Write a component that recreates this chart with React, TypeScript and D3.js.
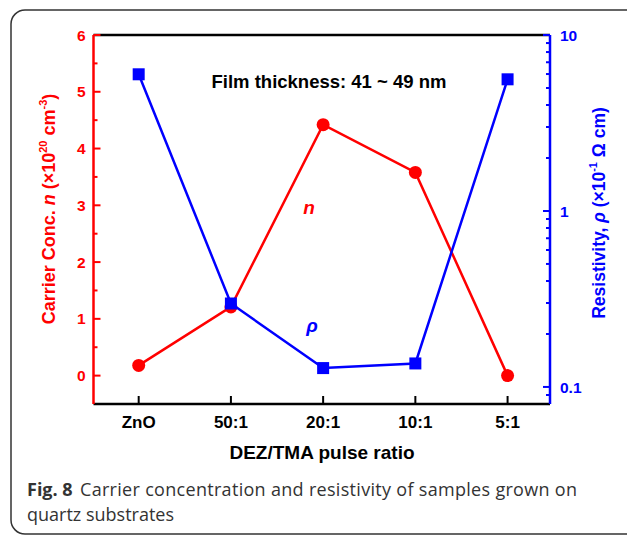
import React from "react";
import * as d3 from "d3";

const categories = ["ZnO", "50:1", "20:1", "10:1", "5:1"];
const carrierConc = [0.18, 1.21, 4.42, 3.58, 0.0];
const resistivity = [5.98, 0.298, 0.128, 0.136, 5.6];
const leftTicks = [0, 1, 2, 3, 4, 5, 6];
const leftMinor = [0.5, 1.5, 2.5, 3.5, 4.5, 5.5];
const rightTicks = [0.1, 1, 10];
const rightMinor = [0.09, 0.2, 0.3, 0.4, 0.5, 0.6, 0.7, 0.8, 0.9, 2, 3, 4, 5, 6, 7, 8, 9];

const RED = "#ff0000";
const BLUE = "#0000ff";
const FONT = "Arial, 'Liberation Sans', sans-serif";

export default function App() {
  const L = 93.5, R = 550, T = 35, B = 404;
  const x = d3.scaleLinear().domain([-0.49, 4.46]).range([L, R]);
  const yL = d3.scaleLinear().domain([-0.5, 6]).range([B, T]);
  const yR = d3.scaleLog().domain([0.08, 10]).range([B, T]);

  const lineN = d3.line<number>().x((_, i) => x(i)).y((d) => yL(d));
  const lineR = d3.line<number>().x((_, i) => x(i)).y((d) => yR(d));

  return (
    <svg width={627} height={535} style={{ position: "absolute", left: 0, top: 0, background: "#fff" }}>
      <rect x={11} y={10} width={660} height={524} rx={14} fill="#fff" stroke="#333" strokeWidth={1.5} />

      {/* axes frame */}
      <line x1={L} x2={R} y1={T} y2={T} stroke="#000" strokeWidth={2.5} />
      <line x1={L} x2={R} y1={B} y2={B} stroke="#000" strokeWidth={2.5} />
      <line x1={L} x2={L} y1={T} y2={B} stroke={RED} strokeWidth={2.5} />
      <line x1={R} x2={R} y1={T} y2={B} stroke={BLUE} strokeWidth={2.5} />

      {/* left ticks */}
      {leftTicks.map((t) => (
        <g key={"lt" + t}>
          <line x1={L} x2={L + 7} y1={yL(t)} y2={yL(t)} stroke={RED} strokeWidth={2} />
          <text x={L - 8} y={yL(t)} dy="0.36em" textAnchor="end" fill={RED} fontFamily={FONT} fontWeight="bold" fontSize={15.5}>
            {t}
          </text>
        </g>
      ))}
      {leftMinor.map((t) => (
        <line key={"lm" + t} x1={L} x2={L + 4} y1={yL(t)} y2={yL(t)} stroke={RED} strokeWidth={2} />
      ))}

      {/* right ticks */}
      {rightTicks.map((t) => (
        <g key={"rt" + t}>
          <line x1={R} x2={R - 7} y1={yR(t)} y2={yR(t)} stroke={BLUE} strokeWidth={2} />
          <text x={R + 10} y={yR(t)} dy="0.36em" textAnchor="start" fill={BLUE} fontFamily={FONT} fontWeight="bold" fontSize={15.5}>
            {t}
          </text>
        </g>
      ))}
      {rightMinor.map((t) => (
        <line key={"rm" + t} x1={R} x2={R - 4} y1={yR(t)} y2={yR(t)} stroke={BLUE} strokeWidth={2} />
      ))}

      {/* bottom ticks */}
      {categories.map((c, i) => (
        <g key={c}>
          <line x1={x(i)} x2={x(i)} y1={B} y2={B - 8} stroke="#000" strokeWidth={2} />
          <text x={x(i)} y={428} textAnchor="middle" fill="#000" fontFamily={FONT} fontWeight="bold" fontSize={17}>
            {c}
          </text>
        </g>
      ))}

      {/* series */}
      <path d={lineN(carrierConc) || ""} fill="none" stroke={RED} strokeWidth={2.5} />
      {carrierConc.map((v, i) => (
        <circle key={"c" + i} cx={x(i)} cy={yL(v)} r={6.5} fill={RED} />
      ))}
      <path d={lineR(resistivity) || ""} fill="none" stroke={BLUE} strokeWidth={2.5} />
      {resistivity.map((v, i) => (
        <rect key={"s" + i} x={x(i) - 6} y={yR(v) - 6} width={12} height={12} fill={BLUE} />
      ))}

      {/* annotations */}
      <text x={329} y={88} textAnchor="middle" fill="#000" fontFamily={FONT} fontWeight="bold" fontSize={18.5}>
        Film thickness: 41 ~ 49 nm
      </text>
      <text x={309} y={214} textAnchor="middle" fill={RED} fontFamily={FONT} fontWeight="bold" fontStyle="italic" fontSize={19}>
        n
      </text>
      <text x={312} y={332} textAnchor="middle" fill={BLUE} fontFamily={FONT} fontWeight="bold" fontStyle="italic" fontSize={19}>
        ρ
      </text>

      {/* axis titles */}
      <text x={322} y={459} textAnchor="middle" fill="#000" fontFamily={FONT} fontWeight="bold" fontSize={19}>
        DEZ/TMA pulse ratio
      </text>
      <text transform="translate(55,209) rotate(-90)" textAnchor="middle" fill={RED} fontFamily={FONT} fontWeight="bold" fontSize={18}>
        Carrier Conc. <tspan fontStyle="italic">n</tspan> (×10<tspan fontSize={11} dy={-8}>20</tspan>
        <tspan dy={8}> cm</tspan>
        <tspan fontSize={11} dy={-8}>-3</tspan>
        <tspan dy={8}>)</tspan>
      </text>
      <text transform="translate(605,213) rotate(-90)" textAnchor="middle" fill={BLUE} fontFamily={FONT} fontWeight="bold" fontSize={17.5}>
        Resistivity, <tspan fontStyle="italic">ρ</tspan> (×10<tspan fontSize={11} dy={-8}>-1</tspan>
        <tspan dy={8}> Ω cm)</tspan>
      </text>

      {/* caption */}
      <text x={27} y={496} fill="#333" fontFamily="'Open Sans', sans-serif" fontSize={18} fontWeight="bold">
        Fig. 8
      </text>
      <text x={80} y={496} fill="#333" fontFamily="'Open Sans', sans-serif" fontSize={18} textLength={497} lengthAdjust="spacing">
        Carrier concentration and resistivity of samples grown on
      </text>
      <text x={27} y={521} fill="#333" fontFamily="'Open Sans', sans-serif" fontSize={18}>
        quartz substrates
      </text>
    </svg>
  );
}
